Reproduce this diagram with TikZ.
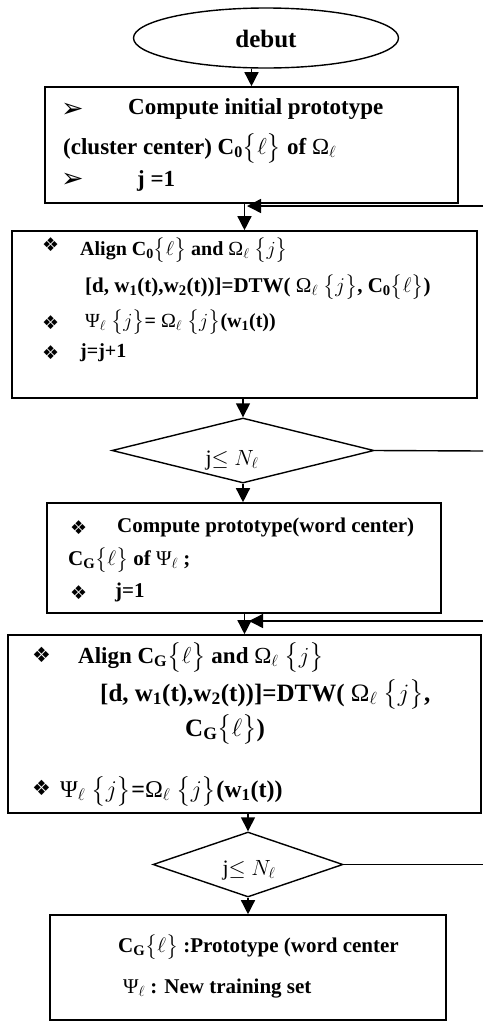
\RequirePackage{fix-cm}
\documentclass[tikz,border=0pt]{standalone}
\usepackage{amsmath}
\usepackage{fontspec}
\setmainfont{Liberation Serif}
\newfontfamily\dingfont{DejaVu Sans}
\usepackage{tikz}
\usetikzlibrary{shapes.geometric,arrows.meta,positioning}
\newcommand{\brl}{$\bigl\{\ell\bigr\}$}
\newcommand{\brj}{$\bigl\{j\bigr\}$}
\newcommand{\gOm}{{\mdseries Ω}$_\ell$}
\newcommand{\gPs}{{\mdseries Ψ}$_\ell$}
\tikzset{
  procbox/.style={rectangle, draw, line width=1.6pt, inner sep=0pt},
  startnode/.style={ellipse, draw, line width=1.4pt, inner sep=0pt},
  decis/.style={diamond, draw, line width=1.4pt, inner sep=0pt},
  flow/.style={-{Triangle[length=14pt,width=14pt]}, line width=1.4pt},
  loopline/.style={line width=1.4pt},
  bul/.style={font=\dingfont\fontsize{#1}{#1}\selectfont, inner sep=0pt, anchor=west},
  txt/.style={font=\bfseries\fontsize{#1}{#1}\selectfont, inner sep=0pt, anchor=base west},
  dtxt/.style={font=\fontsize{22}{22}\selectfont, inner sep=0pt, anchor=base},
}

\begin{document}
\begin{tikzpicture}[x=1pt,y=-1pt]
  \useasboundingbox (0,0) rectangle (483,1021);
  % shapes
  \node[startnode, minimum width=265, minimum height=60] (debut) at (266,38) {};
  \node[txt=25, anchor=base] (debuttxt) at (266,47) {debut};
  \node[procbox, minimum width=413, minimum height=116] (box1) at (251.5,145) {};
  \node[procbox, minimum width=465, minimum height=167] (box2) at (244.5,314.5) {};
  \node[decis, minimum width=262, minimum height=65] (dec1) at (243,450.5) {};
  \node[procbox, minimum width=394, minimum height=110] (box3) at (244,558) {};
  \node[procbox, minimum width=473, minimum height=178] (box4) at (244.5,724) {};
  \node[decis, minimum width=190, minimum height=65] (dec2) at (248,864.5) {};
  \node[procbox, minimum width=396, minimum height=105] (box5) at (248,967.5) {};

  % box 1
  \node[bul=27] (b1a) at (61,110) {➢};
  \node[txt=23] (t1a) at (128,114) {Compute initial prototype};
  \node[txt=23] (t1b) at (63,154) {(cluster center) C\textsubscript{0}\brl{} of \gOm};
  \node[bul=27] (b1c) at (61,180) {➢};
  \node[txt=23] (t1c) at (137,186) {j =1};
  % box 2
  \node[bul=19] (b2a) at (42,245) {❖};
  \node[txt=20] (t2a) at (80,255) {Align C\textsubscript{0}\brl{} and \gOm{} \brj};
  \node[txt=21] (t2b) at (85,292) {[d, w\textsubscript{1}(t),w\textsubscript{2}(t))]=DTW( \gOm{} \brj, C\textsubscript{0}\brl)};
  \node[bul=19] (b2c) at (42,323) {❖};
  \node[txt=20] (t2c) at (85,327) {\gPs{} \brj= \gOm{} \brj(w\textsubscript{1}(t))};
  \node[bul=19] (b2d) at (42,353) {❖};
  \node[txt=20] (t2d) at (80,357) {j=j+1};
  % decision 1
  \node[dtxt] (d1txt) at (232,465) {j$\leq$ $N_\ell$};
  % box 3
  \node[bul=19] (b3a) at (70,528) {❖};
  \node[txt=21] (t3a) at (117,532) {Compute prototype(word center)};
  \node[txt=21] (t3b) at (68,565) {C\textsubscript{G}\brl{} of \gPs{} ;};
  \node[bul=19] (b3c) at (70,593) {❖};
  \node[txt=21] (t3c) at (115,597) {j=1};
  % box 4
  \node[bul=21] (b4a) at (32,655) {❖};
  \node[txt=23] (t4a) at (78,663) {Align C\textsubscript{G}\brl{} and \gOm{} \brj};
  \node[txt=25] (t4b) at (100,701) {[d, w\textsubscript{1}(t),w\textsubscript{2}(t))]=DTW( \gOm{} \brj,};
  \node[txt=25] (t4c) at (185,736) {C\textsubscript{G}\brl)};
  \node[bul=21] (b4d) at (32,788) {❖};
  \node[txt=24] (t4d) at (60,797) {\gPs{} \brj=\gOm{} \brj(w\textsubscript{1}(t))};
  % decision 2
  \node[dtxt] (d2txt) at (249,875) {j$\leq$ $N_\ell$};
  % box 5
  \node[txt=21] (t5a) at (118,952) {C\textsubscript{G}\brl{} :Prototype (word center};
  \node[txt=21] (t5b) at (123,993) {\gPs{} : New training set};

  % connectors
  \coordinate (ret1) at (483,206);
  \coordinate (join1) at (247,206);
  \coordinate (out1) at (483,451);
  \coordinate (ret2) at (483,621);
  \coordinate (join2) at (249,621);
  \coordinate (out2) at (483,864.5);
  \draw[flow] (debut.south -| box1.north) -- (box1.north);
  \draw[flow] (box1.south -| box2.north) -- (box2.north);
  \draw[flow] (ret1) -- (join1);
  \draw[flow] (box2.south -| dec1.north) -- (dec1.north);
  \draw[loopline] (dec1.east) -- (out1);
  \draw[flow] (dec1.south) -- (dec1.south |- box3.north);
  \draw[flow] (box3.south -| box4.north) -- (box4.north);
  \draw[flow] (ret2) -- (join2);
  \draw[flow] (box4.south -| dec2.north) -- (dec2.north);
  \draw[loopline] (dec2.east) -- (out2);
  \draw[flow] (dec2.south) -- (box5.north);
\end{tikzpicture}
\end{document}
